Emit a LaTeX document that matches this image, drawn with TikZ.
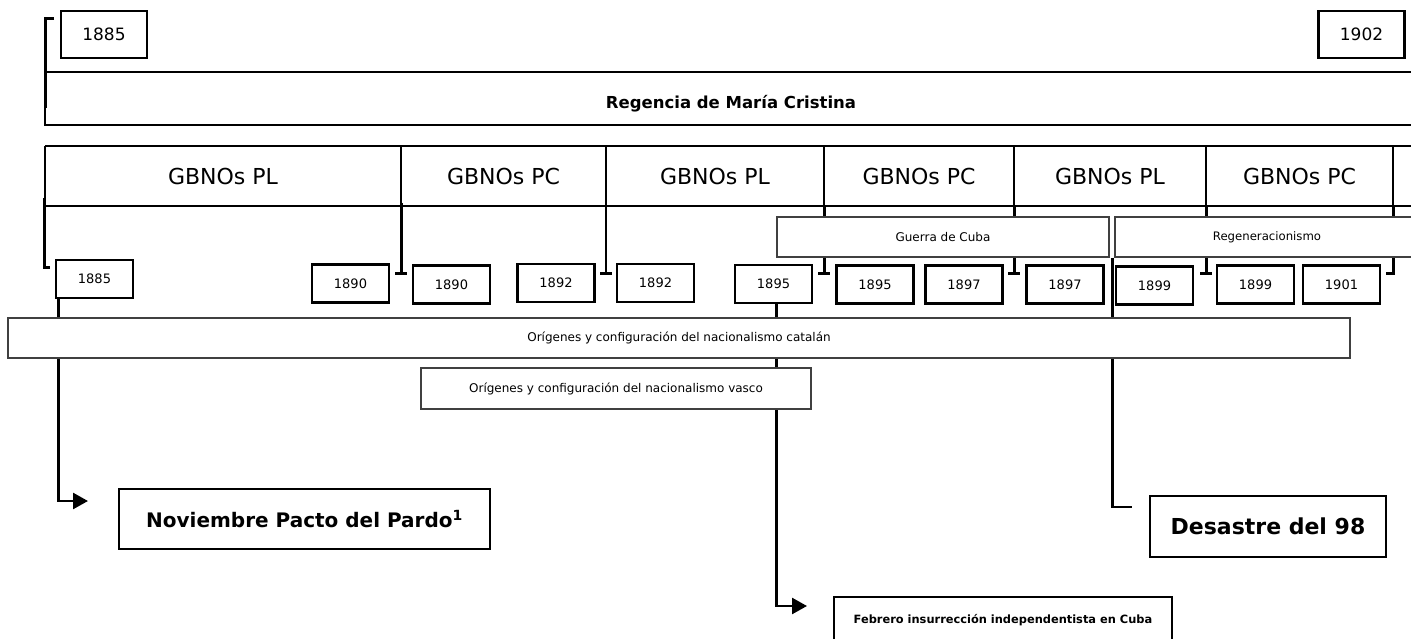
\documentclass[tikz,border=0pt]{standalone}
\usepackage{fontspec}
\setmainfont{DejaVu Sans}
\usetikzlibrary{arrows.meta}
\pgfdeclarelayer{bg}
\pgfsetlayers{bg,main}
\begin{document}
\begin{tikzpicture}[x=1pt,y=-1pt,
  yr/.style={draw, line width=2.5pt, minimum width=77pt, minimum height=38pt, inner sep=0pt, fill=white, font=\fontsize{13}{15}\selectfont},
  bigyr/.style={draw, line width=2.5pt, minimum width=86pt, minimum height=47pt, inner sep=0pt, font=\fontsize{17}{20}\selectfont},
  band/.style={draw=black!75, line width=1.1pt, fill=white, inner sep=0pt, font=\fontsize{12}{14}\selectfont},
  bandline/.style={draw=black!75, line width=1.1pt},
  event/.style={draw, line width=2.8pt, fill=white, inner sep=0pt, font=\bfseries\fontsize{20}{24}\selectfont},
  gov/.style={font=\fontsize{22}{26}\selectfont},
  brk/.style={line width=3pt},
  frame/.style={line width=2.2pt},
  divider/.style={line width=1.7pt},
  conn/.style={line width=2.6pt},
  arr/.style={conn, -{Triangle[length=15pt,width=16pt]}},
]
\useasboundingbox (0,0) rectangle (1411,639);

% top
\node[bigyr] (t1885) at (104,34.5) {1885};
\node[bigyr] (t1902) at (1361.5,34.5) {1902};
\draw[brk] (54,19) -- (45,19) -- (45,108);
\draw[frame] (1411,72) -| (45,125) -- (1411,125);
\node[font=\bfseries\fontsize{16.5}{19}\selectfont] (regencia) at (731,104) {Regencia de María Cristina};

% governments row
\draw[frame] (1411,146) -- (45,146) (45,206) -- (1411,206);
\foreach \x in {45,401,606,824,1014,1206,1393} \draw[divider] (\x,146) -- (\x,206);
\node[gov] (g1) at (223,176) {GBNOs PL};
\node[gov] (g2) at (503.5,176) {GBNOs PC};
\node[gov] (g3) at (715,176) {GBNOs PL};
\node[gov] (g4) at (919,176) {GBNOs PC};
\node[gov] (g5) at (1110,176) {GBNOs PL};
\node[gov] (g6) at (1299.5,176) {GBNOs PC};

% brackets
\draw[brk] (44,198) -- (44,267) -- (50,267);
\draw[brk] (401,203) -- (401,273) (395,273) -- (407,273);
\draw[divider] (606,206) -- (606,273);
\draw[brk] (600,273) -- (612,273);
\draw[brk] (824,206) -- (824,217) (824,257) -- (824,273) (818,273) -- (830,273);
\draw[brk] (1014,206) -- (1014,217) (1014,257) -- (1014,273) (1008,273) -- (1020,273);
\draw[brk] (1206,206) -- (1206,217) (1206,257) -- (1206,273) (1200,273) -- (1212,273);
\draw[brk] (1393,206) -- (1393,217) (1393,257) -- (1393,273) -- (1386,273);

% bands
\node[band, minimum width=332pt, minimum height=40pt] (guerra) at (943,237) {Guerra de Cuba};
\node[font=\fontsize{11.7}{14}\selectfont] (regen) at (1267,237) {Regeneracionismo};
\draw[bandline] (1411,217) -| (1115,257) -- (1411,257);

% year boxes
\node[yr] (b1885a) at (94.5,279) {1885};
\node[yr] (b1890a) at (350.5,283.5) {1890};
\node[yr] (b1890b) at (451.5,284.5) {1890};
\node[yr] (b1892a) at (556,283) {1892};
\node[yr] (b1892b) at (655.5,283) {1892};
\node[yr] (b1895a) at (773.5,284) {1895};
\node[yr] (b1895b) at (875,284.5) {1895};
\node[yr] (b1897a) at (964,284.5) {1897};
\node[yr] (b1897b) at (1065,284.5) {1897};
\node[yr] (b1899a) at (1154.5,285.5) {1899};
\node[yr] (b1899b) at (1255.5,284.5) {1899};
\node[yr] (b1901) at (1341.5,284.5) {1901};

% nationalism bands
\node[band, minimum width=1342pt, minimum height=40pt] (catalan) at (679,338) {Orígenes y configuración del nacionalismo catalán};
\node[band, minimum width=390pt, minimum height=41pt] (vasco) at (616,388.5) {Orígenes y configuración del nacionalismo vasco};

% events
\node[event, minimum width=371pt, minimum height=60pt] (pardo) at (304.5,519) {Noviembre Pacto del Pardo\textsuperscript{1}};
\node[event, minimum width=236pt, minimum height=61pt, font=\bfseries\fontsize{22}{26}\selectfont] (desastre) at (1268,526.5) {Desastre del 98};
\node[font=\bfseries\fontsize{11.4}{14}\selectfont] (febrero) at (1003,620) {Febrero insurrección independentista en Cuba};
\draw[line width=2.8pt] (834,639) |- (1172,597) -- (1172,639);

% connectors
\coordinate (pardoarr) at (88,501);
\coordinate (febarr) at (807,606);
\coordinate (desend) at (1132,507);
\begin{pgfonlayer}{bg}
\draw[arr] ([xshift=4pt]b1885a.south west) |- (pardoarr);
\draw[arr] ([xshift=3pt]b1895a.south) |- (febarr);
\draw[conn] ([xshift=3pt]guerra.south east) |- (desend);
\end{pgfonlayer}
\end{tikzpicture}
\end{document}
